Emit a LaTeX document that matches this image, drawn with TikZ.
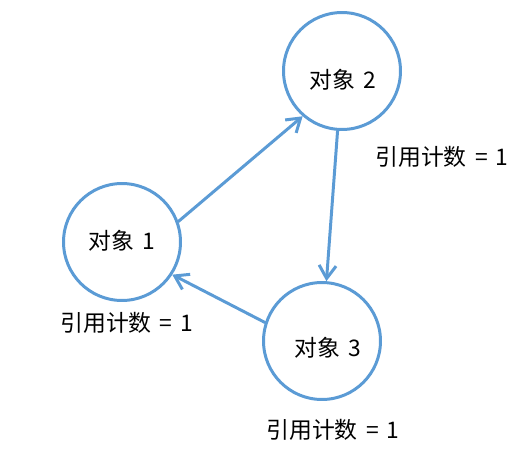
\documentclass[tikz,border=0pt]{standalone}
\usepackage{fontspec}
\setmainfont{Noto Sans CJK SC}
\newfontfamily\countfont{Noto Sans CJK SC}[WordSpace=1.6]
\usetikzlibrary{arrows.meta}
\definecolor{linkblue}{RGB}{91,155,213}
\begin{document}
\begin{tikzpicture}[x=0.02cm, y=-0.02cm, line cap=round, line join=round,
    obj/.style={circle, draw=linkblue, line width=1.7pt, minimum size=2.34cm, inner sep=0pt},
    count/.style={font=\countfont\fontsize{13}{15}\selectfont},
    link/.style={draw=linkblue, line width=1.7pt, -{Straight Barb[length=2.6mm, width=3.4mm]}}]
	\useasboundingbox (0, 0) rectangle (523, 453);
	% Objects
	\node [obj, label={[count, yshift=0.03cm]center:对象 1}] (obj-1) at (122, 242) {};
	\node [obj, label={[count, xshift=0.02cm, yshift=-0.18cm]center:对象 2}] (obj-2) at (342, 71) {};
	\node [obj, label={[count, xshift=0.12cm, yshift=-0.14cm]center:对象 3}] (obj-3) at (322, 341) {};
	% Reference counts
	\node [count] (count-1) at (127, 323) {引用计数 = 1};
	\node [count] (count-2) at (442, 157) {引用计数 = 1};
	\node [count] (count-3) at (333, 430) {引用计数 = 1};
	% References
	\draw [link] (obj-1.20) -- (obj-2.229);
	\draw [link] (obj-2) -- (obj-3);
	\draw [link] (obj-3.162) -- (obj-1.-33);
\end{tikzpicture}
\end{document}
